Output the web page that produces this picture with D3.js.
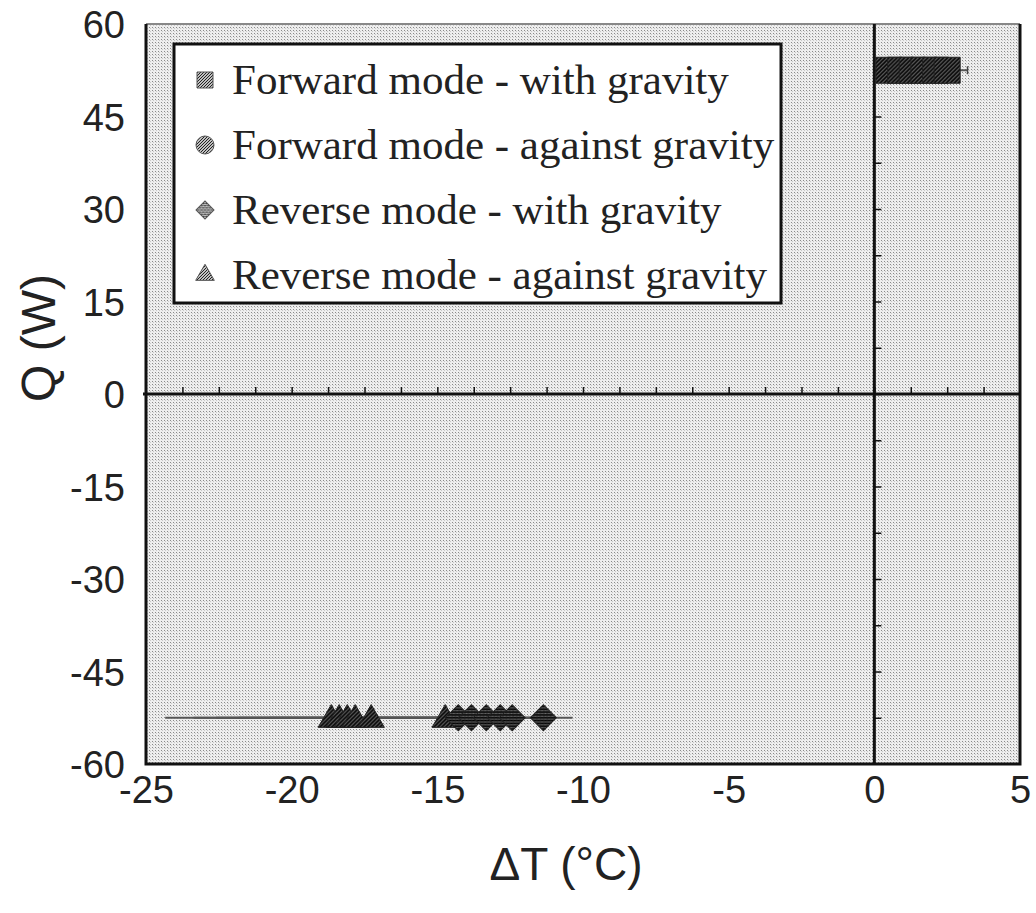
<!DOCTYPE html>
<html>
<head>
<meta charset="utf-8">
<script src="https://cdn.jsdelivr.net/npm/d3@7"></script>
<style>
  body { margin: 0; background: #fff; }
  .tick text { font-family: "Liberation Sans", Arial, sans-serif; fill: #222; }
</style>
</head>
<body>
<div id="chart"></div>
<script>
// Forward mode - with gravity (squares)
const fwdWithX = [0.5, 0.9, 1.3, 1.7, 2.1, 2.5];
const fwdWithQ = [52.5, 52.5, 52.5, 52.5, 52.5, 52.5];
const fwdWithErr = [0.3, 0.3, 0.3, 0.3, 0.3, 0.7];
// Forward mode - against gravity (circles, hidden under the squares)
const fwdAgainstX = [0.8, 1.4, 2.0];
const fwdAgainstQ = [52.5, 52.5, 52.5];
const fwdAgainstErr = [0.3, 0.3, 0.3];
// Reverse mode - with gravity (diamonds)
const revWithX = [-14.28, -13.83, -13.32, -12.84, -12.43, -11.36];
const revWithQ = [-52.5, -52.5, -52.5, -52.5, -52.5, -52.5];
const revWithErr = [0.8, 0.8, 0.8, 0.8, 0.8, 1.0];
// Reverse mode - against gravity (triangles)
const revAgainstX = [-18.64, -18.37, -18.09, -17.82, -17.27, -14.73];
const revAgainstQ = [-52.5, -52.5, -52.5, -52.5, -52.5, -52.5];
const revAgainstErr = [5.7, 5.0, 4.5, 4.0, 3.5, 3.5];

const xTicks = [-25, -20, -15, -10, -5, 0, 5];
const yTicks = [60, 45, 30, 15, 0, -15, -30, -45, -60];
const legendLabels = [
  "Forward mode - with gravity",
  "Forward mode - against gravity",
  "Reverse mode - with gravity",
  "Reverse mode - against gravity"
];

const margin = { top: 24, right: 16, bottom: 149, left: 146 },
      width = 1036 - margin.left - margin.right,
      height = 913 - margin.top - margin.bottom;

const root = d3.select("#chart")
  .append("svg")
  .attr("width", 1036)
  .attr("height", 913);

const defs = root.append("defs");
const dots = defs.append("pattern")
  .attr("id", "dots")
  .attr("patternUnits", "userSpaceOnUse")
  .attr("width", 3).attr("height", 3);
dots.append("rect").attr("width", 3).attr("height", 3).attr("fill", "#eeeeee");
dots.append("rect").attr("width", 1).attr("height", 1).attr("fill", "#8a8a8a");
dots.append("rect").attr("x", 1).attr("y", 1).attr("width", 1).attr("height", 1).attr("fill", "#c8c8c8");

const hatch = defs.append("pattern")
  .attr("id", "hatch")
  .attr("patternUnits", "userSpaceOnUse")
  .attr("width", 4).attr("height", 4);
hatch.append("rect").attr("width", 4).attr("height", 4).attr("fill", "#6a6a6a");
hatch.append("path")
  .attr("d", "M-1,1 l2,-2 M0,4 l4,-4 M3,5 l2,-2")
  .attr("stroke", "#000")
  .attr("stroke-width", 1.6);

const legendHatch = defs.append("pattern")
  .attr("id", "lhatch")
  .attr("patternUnits", "userSpaceOnUse")
  .attr("width", 3).attr("height", 3);
legendHatch.append("rect").attr("width", 3).attr("height", 3).attr("fill", "#c0c0c0");
legendHatch.append("path")
  .attr("d", "M-1,1 l2,-2 M0,3 l3,-3 M2,4 l2,-2")
  .attr("stroke", "#222")
  .attr("stroke-width", 1);

const svg = root.append("g")
  .attr("transform", `translate(${margin.left},${margin.top})`);

const x = d3.scaleLinear().domain([-25, 5]).range([0, width]);
const y = d3.scaleLinear().domain([-60, 60]).range([height, 0]);

// plot background
svg.append("rect")
  .attr("width", width)
  .attr("height", height)
  .attr("fill", "url(#dots)");

// axes (labels only)
const xAxis = svg.append("g")
  .attr("transform", `translate(0,${height})`)
  .call(d3.axisBottom(x).tickValues(xTicks).tickSize(0).tickPadding(12).tickFormat(d => String(d)));
xAxis.select(".domain").remove();
xAxis.selectAll("text").style("font-size", "38px");

const yAxis = svg.append("g")
  .call(d3.axisLeft(y).tickValues(yTicks).tickSize(0).tickPadding(21).tickFormat(d => String(d)));
yAxis.select(".domain").remove();
yAxis.selectAll("text").style("font-size", "38px").attr("dy", "0.36em");

// frame
svg.append("line").attr("x1", 0).attr("x2", width).attr("y1", 0).attr("y2", 0)
  .attr("stroke", "#888").attr("stroke-width", 2);
svg.append("path")
  .attr("d", `M0,0 V${height} H${width} V0`)
  .attr("fill", "none").attr("stroke", "#111").attr("stroke-width", 3);

// zero lines
svg.append("line")
  .attr("x1", -3).attr("x2", width)
  .attr("y1", y(0)).attr("y2", y(0))
  .attr("stroke", "#111").attr("stroke-width", 3);
svg.append("line")
  .attr("x1", x(0)).attr("x2", x(0))
  .attr("y1", 0).attr("y2", height)
  .attr("stroke", "#111").attr("stroke-width", 3);

// small ticks on the zero lines
svg.append("g")
  .attr("transform", `translate(0,${y(0)})`)
  .call(d3.axisTop(x).tickValues(d3.range(-23.75, 5, 1.25)).tickSize(7).tickFormat(""))
  .call(g => g.select(".domain").remove())
  .call(g => g.selectAll("line").attr("stroke", "#111").attr("stroke-width", 1.5));
svg.append("g")
  .attr("transform", `translate(${x(0)},0)`)
  .call(d3.axisRight(y).tickValues(d3.range(-52.5, 60, 7.5)).tickSize(7).tickFormat(""))
  .call(g => g.select(".domain").remove())
  .call(g => g.selectAll("line").attr("stroke", "#111").attr("stroke-width", 1.5));

// axis titles
svg.append("text")
  .attr("text-anchor", "middle")
  .attr("x", width / 2 - 17)
  .attr("y", height + 116)
  .style("font-family", "'Liberation Sans', Arial, sans-serif")
  .style("font-size", "46px")
  .style("fill", "#222")
  .text("ΔT (°C)");

svg.append("text")
  .attr("text-anchor", "middle")
  .attr("transform", "rotate(-90)")
  .attr("x", -(338 - margin.top))
  .attr("y", -146 + 55)
  .style("font-family", "'Liberation Sans', Arial, sans-serif")
  .style("font-size", "48px")
  .style("fill", "#222")
  .text("Q (W)");

// series
const series = [
  { xs: fwdAgainstX, qs: fwdAgainstQ, err: fwdAgainstErr, symbol: d3.symbolCircle, size: 452, rot: 0, cap: true },
  { xs: fwdWithX, qs: fwdWithQ, err: fwdWithErr, symbol: d3.symbolSquare, size: 676, rot: 0, cap: true },
  { xs: revAgainstX, qs: revAgainstQ, err: revAgainstErr, symbol: d3.symbolTriangle, size: 300, rot: 0, cap: false },
  { xs: revWithX, qs: revWithQ, err: revWithErr, symbol: d3.symbolSquare, size: 338, rot: 45, cap: false }
];

const errG = svg.append("g");
series.forEach(s => {
  s.xs.forEach((v, i) => {
    const yy = y(s.qs[i]);
    errG.append("line")
      .attr("x1", x(v - s.err[i])).attr("x2", x(v + s.err[i]))
      .attr("y1", yy).attr("y2", yy)
      .attr("stroke", "#555").attr("stroke-width", 2);
    if (s.cap) {
      [v - s.err[i], v + s.err[i]].forEach(e => {
        errG.append("line")
          .attr("x1", x(e)).attr("x2", x(e))
          .attr("y1", yy - 4).attr("y2", yy + 4)
          .attr("stroke", "#444").attr("stroke-width", 1.5);
      });
    }
  });
});

series.forEach(s => {
  svg.append("g").selectAll("path")
    .data(s.xs.map((v, i) => ({ x: v, q: s.qs[i] })))
    .enter()
    .append("path")
    .attr("d", d3.symbol().type(s.symbol).size(s.size))
    .attr("transform", d => `translate(${x(d.x)},${y(d.q) + (s.symbol === d3.symbolTriangle ? 2 : 0)}) rotate(${s.rot})`)
    .attr("fill", "url(#hatch)")
    .attr("stroke", "#222")
    .attr("stroke-width", 1);
});

// legend
const legend = svg.append("g").attr("transform", `translate(${174 - margin.left},${44 - margin.top})`);
legend.append("rect")
  .attr("width", 607).attr("height", 259)
  .attr("fill", "#fff")
  .attr("stroke", "#111").attr("stroke-width", 3);

const legendSymbols = [
  { symbol: d3.symbolSquare, size: 256, rot: 0 },
  { symbol: d3.symbolCircle, size: 254, rot: 0 },
  { symbol: d3.symbolSquare, size: 162, rot: 45 },
  { symbol: d3.symbolTriangle, size: 150, rot: 0 }
];

legendLabels.forEach((label, i) => {
  const cy = 36 + i * 65;
  legend.append("path")
    .attr("d", d3.symbol().type(legendSymbols[i].symbol).size(legendSymbols[i].size))
    .attr("transform", `translate(31,${cy}) rotate(${legendSymbols[i].rot})`)
    .attr("fill", "url(#lhatch)")
    .attr("stroke", "#555")
    .attr("stroke-width", 1);
  legend.append("text")
    .attr("x", 58)
    .attr("y", cy + 14)
    .style("font-family", "'Liberation Serif', 'Times New Roman', serif")
    .style("font-size", "43px")
    .style("fill", "#222")
    .text(label);
});
</script>
</body>
</html>
